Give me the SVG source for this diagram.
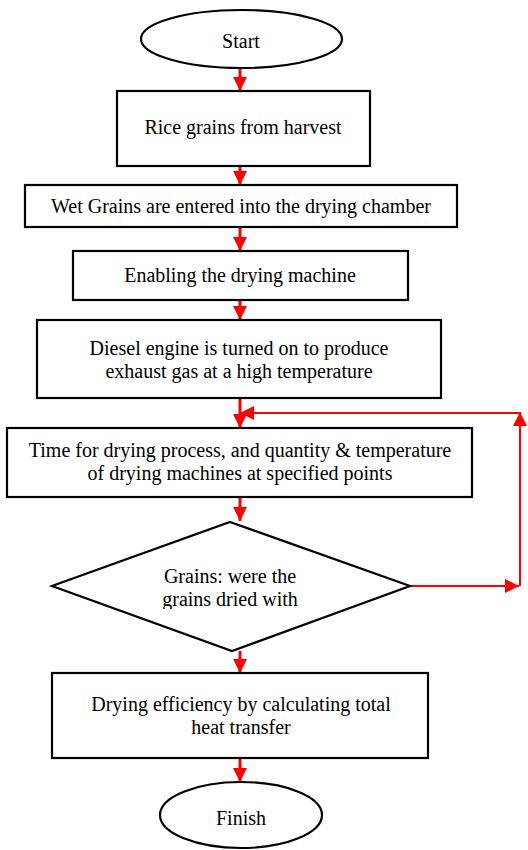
<svg xmlns="http://www.w3.org/2000/svg" width="528" height="850" viewBox="0 0 528 850">
<style>
.n{fill:#fff;stroke:#000;stroke-width:2.2}
.c{fill:none;stroke:#ff0000;stroke-width:3}
.l{fill:none;stroke:#ff0000;stroke-width:2}
</style>
<defs>
<marker id="ah" markerUnits="userSpaceOnUse" markerWidth="16" markerHeight="14" refX="14" refY="7" orient="auto">
<path d="M0,0 L14,7 L0,14 Z" fill="#ff0000"/>
</marker>
<clipPath id="dclip"><rect x="0" y="0" width="528" height="609"/></clipPath>
</defs>
<g id="connectors">
<line class="c" x1="240" y1="68" x2="240" y2="91" marker-end="url(#ah)"/>
<line class="c" x1="240" y1="166" x2="240" y2="185" marker-end="url(#ah)"/>
<line class="c" x1="240" y1="227" x2="240" y2="251" marker-end="url(#ah)"/>
<line class="c" x1="240" y1="300" x2="240" y2="320" marker-end="url(#ah)"/>
<line class="c" x1="240" y1="398" x2="240" y2="428" marker-end="url(#ah)"/>
<line class="c" x1="240" y1="497" x2="240" y2="521" marker-end="url(#ah)"/>
<line class="c" x1="240" y1="651" x2="240" y2="673" marker-end="url(#ah)"/>
<line class="c" x1="240" y1="758" x2="240" y2="782" marker-end="url(#ah)"/>
<line class="l" x1="410" y1="586" x2="519" y2="586" marker-end="url(#ah)"/>
<line class="l" x1="520" y1="586" x2="520" y2="412" marker-end="url(#ah)"/>
<line class="l" x1="520" y1="413" x2="240" y2="413" marker-end="url(#ah)"/>
</g>
<g font-family="Liberation Serif" font-size="20" text-anchor="middle" fill="#000">
<g id="start">
<ellipse class="n" cx="241.5" cy="39" rx="100.5" ry="29"/>
<text x="241" y="48">Start</text>
</g>
<g id="rice">
<rect class="n" x="117" y="91" width="253" height="75"/>
<text x="243" y="134">Rice grains from harvest</text>
</g>
<g id="wet">
<rect class="n" x="25" y="185" width="432" height="42"/>
<text x="241" y="213">Wet Grains are entered into the drying chamber</text>
</g>
<g id="enable">
<rect class="n" x="73" y="251" width="335" height="49"/>
<text x="240" y="282">Enabling the drying machine</text>
</g>
<g id="diesel">
<rect class="n" x="37" y="320" width="404" height="78"/>
<text x="239" y="355">Diesel engine is turned on to produce</text>
<text x="239" y="378">exhaust gas at a high temperature</text>
</g>
<g id="time">
<rect class="n" x="7" y="428" width="465" height="69"/>
<text x="240" y="457">Time for drying process, and quantity &amp; temperature</text>
<text x="240" y="480">of drying machines at specified points</text>
</g>
<g id="decision">
<polygon class="n" points="230,522 410,586 232,651 52,586"/>
<g clip-path="url(#dclip)">
<text x="230" y="583">Grains: were the</text>
<text x="230" y="606">grains dried with</text>
</g>
</g>
<g id="efficiency">
<rect class="n" x="52" y="673" width="376" height="85"/>
<text x="241" y="711">Drying efficiency by calculating total</text>
<text x="241" y="734">heat transfer</text>
</g>
<g id="finish">
<ellipse class="n" cx="241" cy="815" rx="81" ry="33"/>
<text x="241" y="825">Finish</text>
</g>
</g>
</svg>
